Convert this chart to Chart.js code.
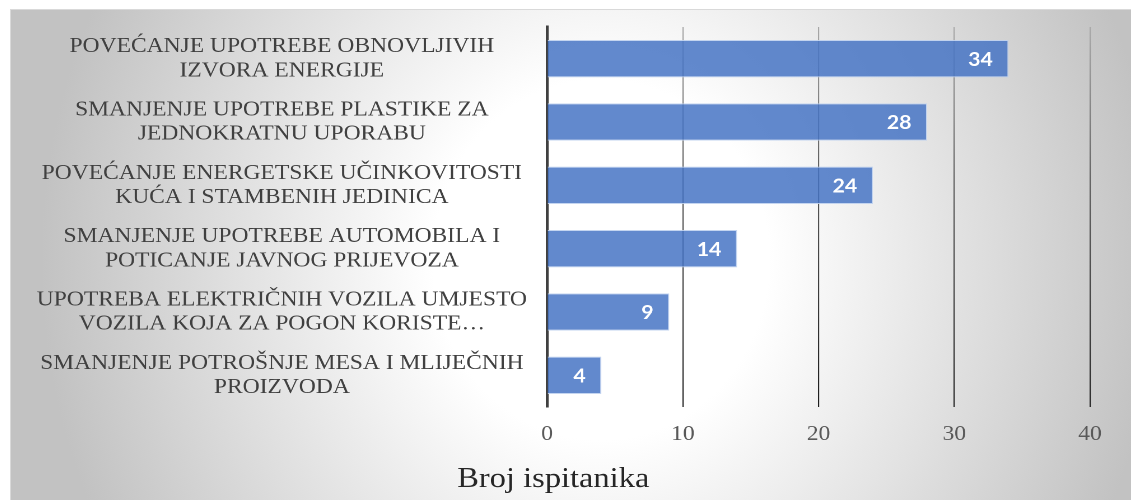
<!DOCTYPE html>
<html>
<head>
<meta charset="utf-8">
<script src="https://cdn.jsdelivr.net/npm/chart.js@4"></script>
<style>
  html, body { margin: 0; padding: 0; background: #fff; }
  #box {
    position: absolute; left: 10px; top: 9px; width: 1121px; height: 491px;
    border-top: 1px solid #d9d9d9; border-left: 1px solid #d9d9d9;
    box-sizing: border-box; overflow: hidden;
    background: radial-gradient(ellipse 560px 600px at 590px 250px, #ffffff 0%, #ffffff 30%, #c2c2c2 100%);
  }
  /* the source picture is a little stretched sideways, so the chart is drawn narrower and widened */
  #wrap {
    position: absolute; left: 0; top: 0; width: 1000px; height: 490px;
    transform: scaleX(1.12); transform-origin: 0 0;
  }
</style>
</head>
<body>
<div id="box"><div id="wrap"><canvas id="bar-chart"></canvas></div></div>
<script>
const categories = [
  ['POVEĆANJE UPOTREBE OBNOVLJIVIH', 'IZVORA ENERGIJE'],
  ['SMANJENJE UPOTREBE PLASTIKE ZA', 'JEDNOKRATNU UPORABU'],
  ['POVEĆANJE ENERGETSKE UČINKOVITOSTI', 'KUĆA I STAMBENIH JEDINICA'],
  ['SMANJENJE UPOTREBE AUTOMOBILA I', 'POTICANJE JAVNOG PRIJEVOZA'],
  ['UPOTREBA ELEKTRIČNIH VOZILA UMJESTO', 'VOZILA KOJA ZA POGON KORISTE…'],
  ['SMANJENJE POTROŠNJE MESA I MLIJEČNIH', 'PROIZVODA']
]
const counts = [34, 28, 24, 14, 9, 4]
const xTicks = [0, 10, 20, 30, 40]
const axisTitle = 'Broj ispitanika'

const barColor = 'rgba(68, 114, 196, 0.84)'
const serif = "'Liberation Serif', 'Times New Roman', serif"

// white numbers inside the end of each bar
const valueLabels = {
  id: 'valueLabels',
  afterDatasetsDraw (chart) {
    const ctx = chart.ctx
    const meta = chart.getDatasetMeta(0)
    ctx.save()
    ctx.font = "bold 19px Lato, 'Open Sans', sans-serif"
    ctx.fillStyle = '#ffffff'
    ctx.textAlign = 'right'
    ctx.textBaseline = 'middle'
    meta.data.forEach((bar, i) => {
      ctx.fillText(String(counts[i]), bar.x - 14, bar.y + 1)
    })
    ctx.restore()
  }
}

function gridColor (context) {
  const area = context.chart.chartArea
  if (!area) return '#555555'
  const g = context.chart.ctx.createLinearGradient(0, area.top, 0, area.bottom)
  g.addColorStop(0, '#a8a8a8')
  g.addColorStop(0.4, '#5a5a5a')
  g.addColorStop(1, '#1c1c1c')
  return g
}

const chart = new Chart(document.getElementById('bar-chart'), {
  type: 'bar',
  data: {
    labels: categories,
    datasets: [{
      label: axisTitle,
      data: counts,
      backgroundColor: barColor,
      borderColor: 'rgba(190, 208, 238, 0.9)',
      borderWidth: 1,
      borderSkipped: 'left',
      categoryPercentage: 1,
      barPercentage: 0.59
    }]
  },
  options: {
    indexAxis: 'y',
    responsive: true,
    maintainAspectRatio: false,
    devicePixelRatio: 2,
    animation: false,
    layout: { padding: { left: 5, right: 36.6, top: 17, bottom: 0 } },
    scales: {
      x: {
        min: 0,
        max: 40,
        afterBuildTicks: (scale) => { scale.ticks = xTicks.map(v => ({ value: v })) },
        grid: { color: gridColor, lineWidth: 1.1, drawTicks: false },
        border: { display: false },
        ticks: { color: '#595959', padding: 15, font: { family: serif, size: 21 } }
      },
      y: {
        afterFit: (scale) => { scale.paddingTop = 0; scale.paddingBottom = 0 },
        grid: { display: false, drawTicks: false },
        border: { display: true, color: '#404040', width: 2.6 },
        ticks: {
          color: '#404040',
          padding: 18,
          crossAlign: 'center',
          font: { family: serif, size: 21, lineHeight: 1.15 }
        }
      }
    },
    plugins: {
      legend: { display: false },
      tooltip: { enabled: false },
      title: {
        display: true,
        position: 'bottom',
        text: axisTitle,
        color: '#262626',
        font: { family: serif, size: 29, weight: 'normal', lineHeight: 1.2 },
        padding: { top: 0, bottom: 3 }
      }
    }
  },
  plugins: [valueLabels]
})
</script>
</body>
</html>
